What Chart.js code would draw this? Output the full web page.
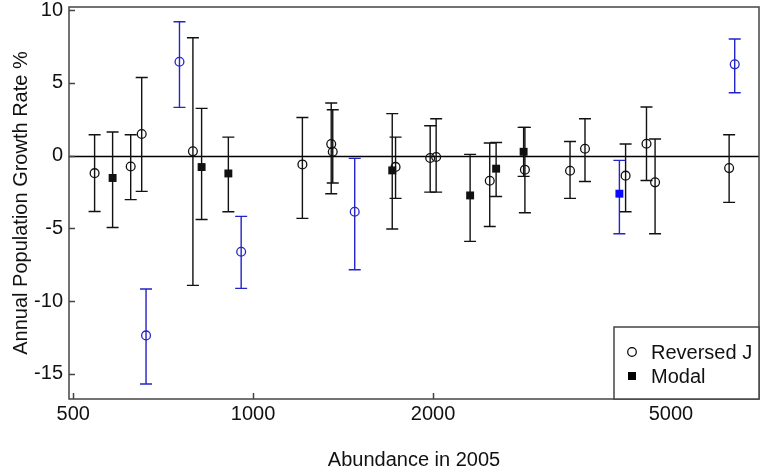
<!DOCTYPE html>
<html>
<head>
<meta charset="utf-8">
<script src="https://cdn.jsdelivr.net/npm/chart.js@4"></script>
<style>
  html, body { margin: 0; padding: 0; background: #fff; }
  #wrap { width: 765px; height: 473px; }
</style>
</head>
<body>
<div id="wrap"><canvas id="growth-chart" width="765" height="473"></canvas></div>
<script>
// Reversed J populations (open circles)
var revJAbundance = [543, 624, 651, 662, 753, 793, 955, 1209, 1351, 1359, 1479, 1731, 1978, 2024, 2488, 2849, 3390, 3591, 4199, 4551, 4704, 6257, 6393];
var revJRate      = [-1.2, -0.74, 1.49, -12.35, 6.46, 0.3, -6.6, -0.6, 0.8, 0.27, -3.85, -0.77, -0.16, -0.09, -1.72, -0.96, -1.03, 0.48, -1.37, 0.82, -1.83, -0.85, 6.28];
var revJLow       = [-3.83, -3.02, -2.45, -15.69, 3.32, -8.91, -9.12, -4.31, -2.61, -1.88, -7.84, -2.93, -2.5, -2.5, -4.86, -3.92, -2.93, -1.77, -3.85, -1.7, -5.36, -3.21, 4.33];
var revJHigh      = [1.44, 1.44, 5.38, -9.16, 9.21, 8.11, -4.17, 2.63, 3.62, 3.16, -0.18, 1.28, 2.06, 2.54, 0.87, 1.95, 0.98, 2.54, 0.8, 3.35, 1.15, 1.44, 8.02];
var revJSignif    = [0, 0, 0, 1, 1, 0, 1, 0, 0, 0, 1, 0, 0, 0, 0, 0, 0, 0, 0, 0, 0, 0, 1];

// Modal populations (filled squares)
var modalAbundance = [582, 820, 909, 1709, 2307, 2550, 2835, 4100];
var modalRate      = [-1.53, -0.78, -1.22, -1.01, -2.73, -0.89, 0.27, -2.61];
var modalLow       = [-4.93, -4.38, -3.85, -5.04, -5.89, -2.8, -1.42, -5.36];
var modalHigh      = [1.63, 3.25, 1.28, 2.89, 0.09, 0.91, 1.95, -0.32];
var modalSignif    = [0, 0, 0, 0, 0, 0, 0, 1];

var xTicks = [500, 1000, 2000, 5000];
var yTicks = [-15, -10, -5, 0, 5, 10];

var BLACK = "#111111";
var BLUE = "#2424c8";
var FONT = "'Liberation Sans', Arial, sans-serif";

function toPoints(xs, ys, lo, hi) {
  return xs.map(function (x, i) {
    return { x: x, y: ys[i], lo: lo[i], hi: hi[i] };
  });
}

function colorsFor(flags, blue) {
  return flags.map(function (f) { return f ? blue : BLACK; });
}

// error bars + zero line, under the markers
var errorBars = {
  id: "errorBars",
  beforeDatasetsDraw: function (chart) {
    var ctx = chart.ctx;
    var x = chart.scales.x;
    var y = chart.scales.y;
    var area = chart.chartArea;

    ctx.save();
    ctx.strokeStyle = "#000";
    ctx.lineWidth = 1.5;
    ctx.beginPath();
    var y0 = Math.round(y.getPixelForValue(0)) + 0.5;
    ctx.moveTo(area.left, y0);
    ctx.lineTo(area.right, y0);
    ctx.stroke();

    chart.data.datasets.forEach(function (ds) {
      ds.data.forEach(function (p, i) {
        var px = x.getPixelForValue(p.x);
        var top = y.getPixelForValue(p.hi);
        var bot = y.getPixelForValue(p.lo);
        ctx.strokeStyle = ds.barColors[i];
        ctx.lineWidth = 1.4;
        ctx.beginPath();
        ctx.moveTo(px, top);
        ctx.lineTo(px, bot);
        ctx.moveTo(px - 6, top);
        ctx.lineTo(px + 6, top);
        ctx.moveTo(px - 6, bot);
        ctx.lineTo(px + 6, bot);
        ctx.stroke();
      });
    });
    ctx.restore();
  },
};

// box, inward ticks and the legend
var frame = {
  id: "frame",
  afterDraw: function (chart) {
    var ctx = chart.ctx;
    var area = chart.chartArea;
    var x = chart.scales.x;
    var y = chart.scales.y;

    ctx.save();
    ctx.strokeStyle = "#444";
    ctx.lineWidth = 1.5;
    ctx.strokeRect(area.left, area.top, area.right - area.left, area.bottom - area.top);

    ctx.beginPath();
    xTicks.forEach(function (v) {
      var px = Math.round(x.getPixelForValue(v)) + 0.5;
      ctx.moveTo(px, area.bottom);
      ctx.lineTo(px, area.bottom - 6);
    });
    yTicks.forEach(function (v) {
      var py = Math.round(y.getPixelForValue(v)) + 0.5;
      ctx.moveTo(area.left, py);
      ctx.lineTo(area.left + 6, py);
    });
    ctx.stroke();

    // legend box in the lower right corner
    var w = 145, h = 72;
    var lx = area.right - w, ly = area.bottom - h;
    ctx.fillStyle = "#fff";
    ctx.fillRect(lx, ly, w, h);
    ctx.strokeRect(lx, ly, w, h);

    ctx.font = "20px " + FONT;
    ctx.textBaseline = "middle";
    ctx.textAlign = "left";
    chart.data.datasets.forEach(function (ds, i) {
      var cy = ly + 25 + i * 24;
      var cx = lx + 18;
      ctx.lineWidth = 1.2;
      ctx.strokeStyle = "#000";
      ctx.fillStyle = "#000";
      if (ds.pointStyle === "circle") {
        ctx.beginPath();
        ctx.arc(cx, cy, 4.3, 0, Math.PI * 2);
        ctx.stroke();
      } else {
        ctx.fillRect(cx - 4, cy - 4, 8, 8);
      }
      ctx.fillStyle = BLACK;
      ctx.fillText(ds.label, lx + 37, cy + 1);
    });
    ctx.restore();
  },
};

var revJColors = colorsFor(revJSignif, BLUE);
var modalColors = colorsFor(modalSignif, BLUE);

var config = {
  type: "scatter",
  data: {
    datasets: [
      {
        label: "Reversed J",
        data: toPoints(revJAbundance, revJRate, revJLow, revJHigh),
        pointStyle: "circle",
        pointRadius: 4.4,
        pointBorderWidth: 1.3,
        pointBackgroundColor: "rgba(255,255,255,0)",
        pointBorderColor: revJColors,
        barColors: revJColors,
      },
      {
        label: "Modal",
        data: toPoints(modalAbundance, modalRate, modalLow, modalHigh),
        pointStyle: "rect",
        pointRadius: 5.6,
        pointBorderWidth: 0,
        pointBackgroundColor: colorsFor(modalSignif, "#0a0aff"),
        pointBorderColor: colorsFor(modalSignif, "#0a0aff"),
        barColors: modalColors,
      },
    ],
  },
  options: {
    responsive: false,
    animation: false,
    layout: { padding: { top: 7, right: 6, left: 0, bottom: 0 } },
    plugins: {
      legend: { display: false },
      tooltip: { enabled: false },
    },
    scales: {
      x: {
        type: "logarithmic",
        min: 492,
        max: 7020,
        grid: { display: false, drawTicks: false },
        border: { display: false },
        afterBuildTicks: function (scale) {
          scale.ticks = xTicks.map(function (v) { return { value: v }; });
        },
        afterFit: function (scale) {
          scale.height = 74;
          scale.paddingLeft = 0;
          scale.paddingRight = 0;
        },
        ticks: {
          color: BLACK,
          font: { family: FONT, size: 20 },
          padding: 3,
          maxRotation: 0,
          autoSkip: false,
          callback: function (v) { return String(v); },
        },
        title: {
          display: true,
          text: "Abundance in 2005",
          color: BLACK,
          font: { family: FONT, size: 20 },
          padding: { top: 0, bottom: 1 },
        },
      },
      y: {
        min: -16.72,
        max: 10.22,
        grid: { display: false, drawTicks: false },
        border: { display: false },
        afterBuildTicks: function (scale) {
          scale.ticks = yTicks.map(function (v) { return { value: v }; });
        },
        afterFit: function (scale) {
          scale.width = 69;
          scale.paddingTop = 0;
          scale.paddingBottom = 0;
        },
        ticks: {
          color: BLACK,
          font: { family: FONT, size: 20 },
          padding: 6,
          autoSkip: false,
        },
        title: {
          display: true,
          text: "Annual Population Growth Rate %",
          color: BLACK,
          font: { family: FONT, size: 20 },
          padding: { top: 9, bottom: 0 },
        },
      },
    },
  },
  plugins: [errorBars, frame],
};

var ctx = document.getElementById("growth-chart").getContext("2d");
var growthChart = new Chart(ctx, config);
</script>
</body>
</html>
